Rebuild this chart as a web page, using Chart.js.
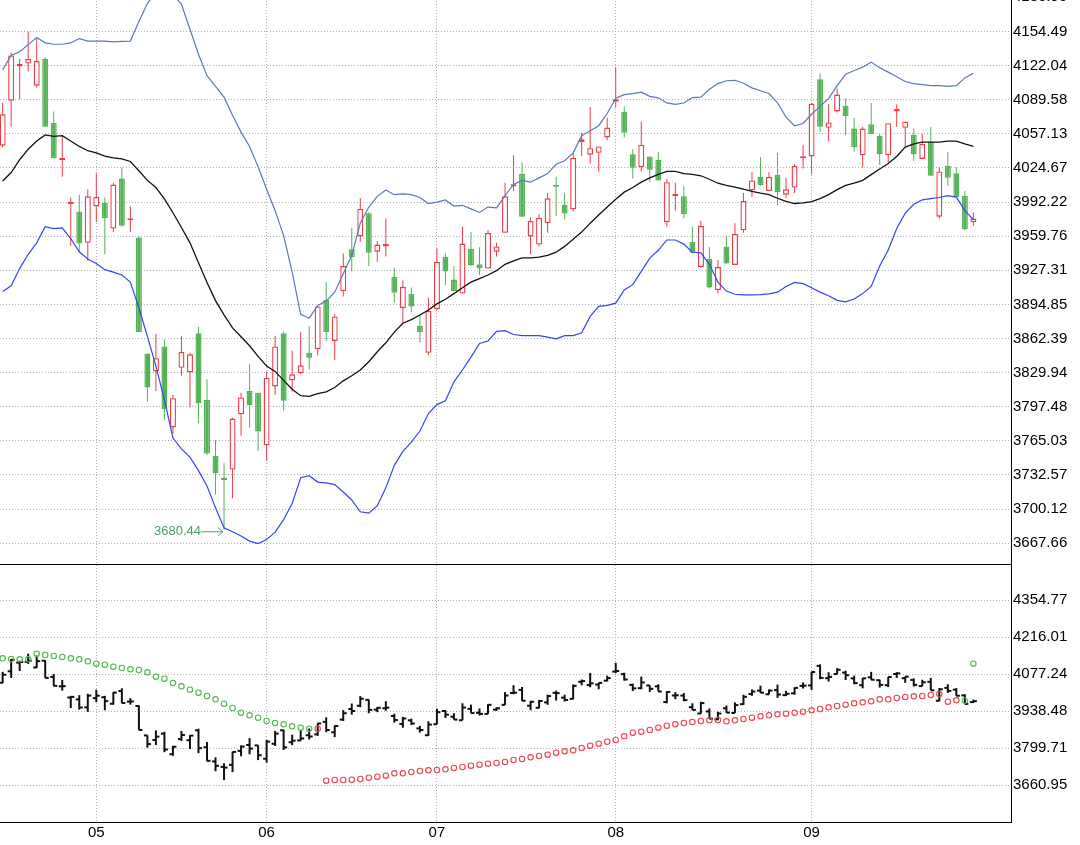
<!DOCTYPE html>
<html>
<head>
<meta charset="utf-8">
<script src="https://cdn.jsdelivr.net/npm/chart.js@4.4.1/dist/chart.umd.min.js"></script>
<style>
  html, body { margin: 0; padding: 0; background: #fff; overflow: hidden; }
  #wrap { position: relative; width: 1080px; height: 845px; overflow: hidden; }
  #topChart { position: absolute; left: 0; top: -20px; }
  #botChart { position: absolute; left: 0; top: 565px; }
</style>
</head>
<body>
<div id="wrap">
  <canvas id="topChart" width="1080" height="585"></canvas>
  <canvas id="botChart" width="1080" height="280"></canvas>
</div>
<script>
// month ticks (index of first session of the month)
const monthIdx = [11, 31, 51, 72, 95];
const monthLabels = ['05', '06', '07', '08', '09'];

const topTicks = [3667.66, 3700.12, 3732.57, 3765.03, 3797.48, 3829.94, 3862.39, 3894.85,
  3927.31, 3959.76, 3992.22, 4024.67, 4057.13, 4089.58, 4122.04, 4154.49, 4186.95];
const botTicks = [3660.95, 3799.71, 3938.48, 4077.24, 4216.01, 4354.77];

const opens = [4045.8, 4088.6, 4121.2, 4123.9, 4102.9, 4128.3, 4067.5, 4032.2, 3990.1, 3983.3,
  3953.4, 3988.0, 3991.4, 3967.0, 4014.5, 3974.8, 3958.5, 3848.1, 3831.1, 3854.9,
  3777.8, 3834.5, 3830.1, 3867.4, 3803.9, 3750.6, 3730.2, 3737.7, 3790.3, 3812.4,
  3810.7, 3760.8, 3816.8, 3867.4, 3822.6, 3829.4, 3848.8, 3852.2, 3899.0, 3860.0,
  3907.5, 3947.3, 3959.5, 3981.6, 3944.9, 3950.0, 3921.1, 3891.2, 3904.8, 3874.6,
  3848.8, 3890.2, 3939.8, 3918.4, 3905.1, 3947.6, 3933.0, 3928.9, 3944.9, 3962.9,
  4007.1, 4018.9, 3959.5, 3951.7, 3972.1, 4007.7, 3989.7, 3985.3, 4049.2, 4037.3,
  4039.0, 4053.6, 4087.6, 4078.0, 4037.6, 4025.4, 4035.6, 4032.2, 3973.1, 3997.9,
  3997.6, 3954.1, 3930.3, 3938.1, 3908.5, 3950.0, 3932.3, 3965.3, 4003.3, 4016.2,
  4002.6, 4017.9, 3999.2, 4006.0, 4033.9, 4035.6, 4109.0, 4062.8, 4078.4, 4083.8,
  4062.1, 4036.6, 4066.2, 4055.3, 4036.6, 4078.4, 4062.8, 4056.3, 4033.2, 4049.2,
  3978.2, 4026.4, 4019.6, 3998.2, 3973.1];
const highs = [4086.6, 4134.5, 4128.3, 4154.5, 4147.7, 4130.0, 4078.4, 4056.0, 3996.5, 3999.2,
  4004.4, 4019.6, 3996.5, 4010.5, 4024.7, 3988.0, 3960.2, 3848.1, 3866.8, 3861.7,
  3809.0, 3865.1, 3848.8, 3873.5, 3823.6, 3765.9, 3743.8, 3786.9, 3810.7, 3837.9,
  3810.7, 3831.1, 3865.1, 3869.1, 3850.8, 3868.5, 3874.2, 3893.9, 3916.0, 3885.4,
  3943.2, 3967.7, 3995.8, 3982.6, 3955.1, 3976.5, 3929.6, 3917.7, 3910.9, 3883.7,
  3901.4, 3948.3, 3943.2, 3931.3, 3968.7, 3963.6, 3949.3, 3965.3, 3953.4, 4010.5,
  4036.6, 4029.8, 3977.8, 3980.6, 4000.9, 4016.2, 4000.9, 4039.0, 4058.0, 4082.5,
  4045.1, 4072.3, 4120.5, 4083.2, 4042.4, 4068.9, 4035.6, 4040.0, 4013.9, 4010.5,
  4007.1, 3968.7, 3974.4, 3949.3, 3937.1, 3960.2, 3972.1, 4000.9, 4020.6, 4034.9,
  4020.6, 4039.0, 4015.2, 4028.1, 4046.8, 4086.6, 4114.7, 4085.2, 4100.1, 4091.0,
  4072.3, 4063.8, 4086.5, 4057.0, 4067.2, 4085.2, 4068.9, 4062.1, 4057.0, 4063.8,
  4025.4, 4040.0, 4025.4, 4002.6, 3982.3];
const lows = [4044.4, 4063.8, 4089.9, 4116.4, 4101.2, 4063.8, 4033.9, 4016.2, 3950.7, 3944.9,
  3936.4, 3973.1, 3942.5, 3963.6, 3968.7, 3963.6, 3868.5, 3802.2, 3812.4, 3785.2,
  3771.6, 3827.0, 3797.1, 3781.8, 3751.3, 3713.9, 3680.44, 3710.5, 3769.9, 3777.4,
  3755.6, 3746.2, 3809.0, 3793.7, 3811.7, 3828.4, 3832.8, 3846.4, 3860.0, 3842.0,
  3902.4, 3926.2, 3954.1, 3931.3, 3935.4, 3940.5, 3896.3, 3876.9, 3887.1, 3858.9,
  3846.4, 3889.5, 3913.3, 3907.5, 3905.1, 3931.3, 3922.8, 3928.9, 3940.5, 3962.9,
  4002.6, 3978.2, 3942.5, 3950.0, 3962.9, 3978.9, 3975.5, 3983.3, 4035.9, 4028.8,
  4021.3, 4051.2, 4081.8, 4053.6, 4014.5, 4021.3, 4011.1, 4012.8, 3968.7, 3984.0,
  3976.5, 3943.2, 3929.6, 3909.9, 3905.1, 3933.0, 3932.3, 3962.9, 3996.9, 4007.7,
  4002.6, 3989.1, 3995.8, 4000.9, 4024.0, 4018.6, 4058.7, 4050.2, 4077.4, 4056.0,
  4040.0, 4024.7, 4057.0, 4027.4, 4029.8, 4063.8, 4045.1, 4031.5, 4032.8, 4017.2,
  3976.5, 4007.7, 3996.9, 3965.3, 3969.7];
const closes = [4075.7, 4131.7, 4123.6, 4128.3, 4126.6, 4063.8, 4033.9, 4032.9, 3992.5, 3952.7,
  3997.6, 3997.2, 3976.8, 4008.8, 3969.7, 3975.5, 3868.5, 3815.8, 3843.7, 3795.4,
  3805.6, 3849.8, 3847.4, 3800.5, 3752.9, 3734.3, 3727.5, 3786.2, 3806.3, 3798.8,
  3774.0, 3824.9, 3854.9, 3803.2, 3828.4, 3836.9, 3844.0, 3892.9, 3868.5, 3883.4,
  3931.3, 3939.8, 3985.7, 3943.9, 3951.7, 3952.4, 3905.8, 3911.6, 3892.9, 3868.5,
  3888.8, 3935.4, 3926.2, 3907.5, 3952.7, 3932.0, 3928.9, 3962.9, 3950.0, 3997.6,
  4008.4, 3978.2, 3974.4, 3977.1, 3995.8, 4006.7, 3981.2, 4034.2, 4051.9, 4043.4,
  4045.1, 4063.1, 4089.9, 4058.0, 4024.7, 4046.8, 4023.0, 4012.8, 4011.1, 3998.6,
  3980.6, 3943.9, 3969.4, 3910.9, 3930.3, 3933.7, 3961.9, 3993.1, 4012.8, 4008.4,
  4016.2, 4001.6, 4004.3, 4026.4, 4034.6, 4085.9, 4063.8, 4067.9, 4094.4, 4074.0,
  4044.4, 4062.1, 4057.0, 4037.6, 4067.2, 4080.8, 4068.6, 4037.6, 4047.5, 4017.2,
  4021.3, 4015.2, 3996.9, 3966.3, 3976.5];

// bollinger bands
const bollUpper = [4118.1, 4131.7, 4135.1, 4141.9, 4148.7, 4143.6, 4142.3, 4142.3, 4143.6, 4147.7,
  4145.3, 4145.3, 4145.3, 4144.6, 4145.0, 4145.3, 4164.0, 4181.0, 4192.0, 4195.0,
  4190.0, 4180.3, 4156.5, 4132.8, 4112.4, 4102.2, 4092.0, 4074.7, 4058.7, 4045.1,
  4025.7, 4004.4, 3984.0, 3960.2, 3925.5, 3885.4, 3881.7, 3893.9, 3898.0, 3906.5,
  3924.0, 3941.5, 3972.1, 3987.4, 3997.6, 4003.7, 3999.2, 3999.9, 3999.2, 3996.5,
  3990.8, 3992.1, 3994.2, 3988.4, 3989.1, 3985.7, 3982.3, 3987.4, 3986.7, 3998.2,
  4008.9, 4012.8, 4011.1, 4015.2, 4019.3, 4028.1, 4031.5, 4039.0, 4055.3, 4060.1,
  4064.8, 4076.4, 4091.0, 4094.4, 4095.4, 4096.7, 4092.7, 4091.3, 4086.5, 4085.2,
  4086.4, 4091.6, 4092.0, 4099.4, 4104.9, 4107.6, 4108.0, 4105.2, 4100.8, 4098.1,
  4095.4, 4086.6, 4073.0, 4064.8, 4066.9, 4075.7, 4083.2, 4090.6, 4102.9, 4113.7,
  4117.3, 4120.5, 4125.3, 4119.9, 4115.8, 4111.4, 4106.9, 4104.9, 4103.9, 4102.9,
  4102.9, 4102.2, 4102.9, 4110.3, 4114.7];
const bollMid = [4012.2, 4020.3, 4032.5, 4042.4, 4050.2, 4056.0, 4054.6, 4055.3, 4050.2, 4045.1,
  4041.0, 4039.0, 4035.9, 4034.2, 4033.2, 4030.8, 4022.0, 4012.8, 4006.0, 3995.2,
  3982.0, 3968.0, 3953.4, 3934.4, 3915.7, 3898.4, 3884.8, 3872.5, 3864.0, 3855.5,
  3845.4, 3836.2, 3831.1, 3822.6, 3814.1, 3808.0, 3807.3, 3810.0, 3811.7, 3815.8,
  3822.1, 3827.0, 3832.4, 3840.3, 3849.8, 3858.3, 3868.5, 3876.9, 3880.3, 3884.8,
  3889.5, 3895.3, 3899.7, 3905.1, 3910.6, 3916.0, 3919.4, 3922.8, 3926.9, 3933.0,
  3936.3, 3939.1, 3939.1, 3939.8, 3941.5, 3944.5, 3950.0, 3956.8, 3963.6, 3972.1,
  3979.9, 3987.4, 3994.8, 4001.6, 4006.0, 4011.1, 4015.2, 4018.6, 4021.3, 4021.3,
  4019.3, 4018.6, 4017.2, 4013.9, 4010.1, 4008.1, 4006.4, 4004.4, 4002.3, 4000.6,
  3999.2, 3995.8, 3992.8, 3990.8, 3991.4, 3992.5, 3995.5, 3999.2, 4004.0, 4008.1,
  4010.2, 4012.8, 4018.3, 4023.7, 4028.8, 4035.6, 4044.4, 4047.5, 4049.2, 4049.2,
  4049.2, 4050.2, 4050.2, 4047.5, 4045.1];
const bollLower = [3907.2, 3912.6, 3928.9, 3942.5, 3953.4, 3968.7, 3967.0, 3967.7, 3957.5, 3944.9,
  3938.1, 3933.7, 3927.9, 3925.5, 3922.8, 3916.0, 3891.6, 3864.4, 3836.2, 3803.9,
  3767.7, 3757.4, 3749.6, 3736.7, 3722.1, 3701.3, 3682.3, 3678.6, 3674.5, 3669.7,
  3667.3, 3671.1, 3678.2, 3690.1, 3705.4, 3729.9, 3731.9, 3725.8, 3725.1, 3723.4,
  3716.4, 3708.8, 3697.6, 3696.2, 3703.3, 3720.3, 3741.7, 3755.0, 3763.8, 3774.4,
  3791.0, 3799.5, 3803.2, 3821.2, 3832.4, 3844.7, 3857.6, 3860.0, 3869.1, 3869.8,
  3866.2, 3865.1, 3865.1, 3865.1, 3863.7, 3862.0, 3865.1, 3865.1, 3867.8, 3883.4,
  3892.9, 3893.9, 3896.0, 3908.5, 3913.6, 3926.2, 3938.8, 3946.3, 3956.1, 3956.1,
  3952.2, 3944.5, 3943.9, 3933.0, 3916.0, 3907.5, 3904.5, 3903.8, 3903.8, 3904.1,
  3904.8, 3906.5, 3911.9, 3915.7, 3914.6, 3910.6, 3906.5, 3903.1, 3898.7, 3897.3,
  3900.0, 3905.1, 3911.9, 3931.3, 3946.6, 3967.0, 3981.6, 3990.1, 3994.2, 3995.5,
  3996.5, 3998.2, 3996.9, 3984.0, 3975.5];

// parabolic SAR dots (bottom panel)
const sar = [4137.2, 4134.8, 4133.5, 4133.5, 4154.8, 4149.8, 4146.0, 4142.3, 4137.2, 4133.5,
  4126.0, 4117.2, 4113.5, 4106.0, 4101.0, 4096.0, 4093.5, 4084.7, 4068.5, 4061.0,
  4044.7, 4032.2, 4019.7, 4008.5, 3996.0, 3983.5, 3967.2, 3951.0, 3933.5, 3923.5,
  3914.7, 3902.2, 3894.7, 3889.7, 3882.2, 3877.2, 3873.5, 3873.5, 3678.5, 3681.0,
  3681.0, 3682.2, 3684.7, 3689.7, 3693.5, 3697.2, 3706.0, 3706.0, 3711.0, 3714.7,
  3717.2, 3718.5, 3721.0, 3726.0, 3729.7, 3734.7, 3738.5, 3742.2, 3744.7, 3748.5,
  3756.0, 3759.7, 3766.0, 3771.0, 3776.0, 3783.5, 3788.5, 3792.2, 3801.0, 3809.7,
  3817.2, 3824.7, 3831.0, 3844.7, 3858.5, 3862.2, 3868.5, 3877.2, 3884.7, 3889.7,
  3894.7, 3898.5, 3902.2, 3904.7, 3906.0, 3901.0, 3904.7, 3909.7, 3914.7, 3919.7,
  3923.5, 3927.2, 3929.7, 3933.5, 3937.2, 3942.2, 3947.2, 3953.5, 3958.5, 3963.5,
  3968.5, 3972.2, 3976.0, 3983.5, 3983.5, 3988.5, 3992.2, 3994.7, 3996.0, 3999.7,
  4003.5, 3974.7, 3979.7, 3978.5, 4117.2];

const RED = '#ec3d48';
const GREEN = '#55b357';
const FONT = '"Liberation Sans", Arial, Helvetica, sans-serif';
Chart.defaults.font.family = FONT;

const isUp = i => closes[i] >= opens[i];
const pts = arr => arr.map((v, i) => ({ x: i, y: v }));
const candleColor = c => isUp(c.dataIndex) ? RED : GREEN;

function xAxis(showLabels) {
  return {
    type: 'linear', min: -0.31, max: 118.42, offset: false,
    afterBuildTicks: s => { s.ticks = monthIdx.map(v => ({ value: v })); },
    afterFit: s => { s.paddingLeft = 0; s.paddingRight = 0; s.height = showLabels ? 23 : 1; },
    ticks: {
      display: showLabels, autoSkip: false, maxRotation: 0, padding: 2,
      color: '#000', font: { size: 15 },
      callback: v => monthLabels[monthIdx.indexOf(v)]
    },
    grid: { offset: false, color: '#b0b0b0', lineWidth: 1, drawTicks: false },
    border: { display: true, color: '#000', width: 1, dash: [1, 2] }
  };
}

function yAxis(min, max, ticks) {
  return {
    position: 'right', min: min, max: max,
    afterBuildTicks: s => { s.ticks = ticks.map(v => ({ value: v })); },
    afterFit: s => { s.width = 69; s.paddingTop = 0; s.paddingBottom = 0; },
    ticks: { color: '#000', font: { size: 15 }, padding: 2, callback: v => v.toFixed(2) },
    grid: { color: '#b0b0b0', lineWidth: 1, drawTicks: false },
    border: { display: true, color: '#000', width: 1, dash: [1, 2] }
  };
}

// label for the lowest low with a small arrow
const lowLabel = {
  id: 'lowLabel',
  afterDatasetsDraw(chart) {
    const { ctx, scales: { x, y } } = chart;
    const minLow = Math.min(...lows);
    const i = lows.indexOf(minLow);
    const px = x.getPixelForValue(i);
    const py = y.getPixelForValue(minLow) + 2;
    ctx.save();
    ctx.strokeStyle = '#4f9f6d';
    ctx.fillStyle = '#4f9f6d';
    ctx.lineWidth = 1;
    ctx.beginPath();
    ctx.moveTo(px - 23, py); ctx.lineTo(px - 1, py);
    ctx.moveTo(px - 6, py - 4); ctx.lineTo(px - 1, py); ctx.lineTo(px - 6, py + 4);
    ctx.stroke();
    ctx.font = '13px ' + FONT;
    ctx.textAlign = 'right';
    ctx.textBaseline = 'middle';
    ctx.fillText(minLow.toFixed(2), px - 23, py);
    ctx.restore();
  }
};

const common = {
  responsive: false,
  animation: false,
  events: [],
  layout: { padding: 0, autoPadding: false },
  plugins: { legend: { display: false }, tooltip: { enabled: false } }
};

new Chart(document.getElementById('topChart'), {
  type: 'bar',
  data: {
    datasets: [
      {
        type: 'line', data: pts(bollUpper), borderColor: '#5b79b8', borderWidth: 1.2,
        pointRadius: 0, tension: 0, order: 1
      },
      {
        type: 'line', data: pts(bollMid), borderColor: '#111', borderWidth: 1.3,
        pointRadius: 0, tension: 0, order: 1
      },
      {
        type: 'line', data: pts(bollLower), borderColor: '#3247ee', borderWidth: 1.2,
        pointRadius: 0, tension: 0, order: 1
      },
      {
        // bodies
        data: opens.map((o, i) => ({ x: i, y: [o, closes[i]] })),
        grouped: false, maxBarThickness: 6, minBarLength: 2,
        backgroundColor: c => isUp(c.dataIndex) ? '#fff' : GREEN,
        borderColor: candleColor, borderWidth: 1.4, borderSkipped: false, order: 2
      },
      {
        // wicks
        data: lows.map((l, i) => ({ x: i, y: [l, highs[i]] })),
        grouped: false, maxBarThickness: 1,
        backgroundColor: candleColor, borderWidth: 0, order: 3
      }
    ]
  },
  options: Object.assign({}, common, {
    scales: {
      x: xAxis(false),
      y: yAxis(3647.89, 4203.41, topTicks)
    }
  }),
  plugins: [lowLabel]
});

new Chart(document.getElementById('botChart'), {
  type: 'bar',
  data: {
    datasets: [
      {
        type: 'line', data: pts(sar), showLine: false, pointStyle: 'circle',
        pointRadius: 2.7, pointBorderWidth: 1.1, pointBackgroundColor: 'rgba(0,0,0,0)',
        pointBorderColor: sar.map((s, i) => s > closes[i] ? '#4fb84f' : '#f0414e'), order: 1
      },
      {
        // open ticks
        type: 'line', data: opens.map((o, i) => ({ x: i - 0.2, y: o })), showLine: false,
        pointStyle: 'line', pointRadius: 1.8, pointBorderWidth: 2, pointBorderColor: '#111', order: 2
      },
      {
        // close ticks
        type: 'line', data: closes.map((c, i) => ({ x: i + 0.2, y: c })), showLine: false,
        pointStyle: 'line', pointRadius: 1.8, pointBorderWidth: 2, pointBorderColor: '#111', order: 2
      },
      {
        data: lows.map((l, i) => ({ x: i, y: [l, highs[i]] })),
        grouped: false, maxBarThickness: 2, minBarLength: 1,
        backgroundColor: '#111', borderWidth: 0, order: 3
      }
    ]
  },
  options: Object.assign({}, common, {
    scales: {
      x: xAxis(true),
      y: yAxis(3523.45, 4487.28, botTicks)
    }
  })
});
</script>
</body>
</html>
